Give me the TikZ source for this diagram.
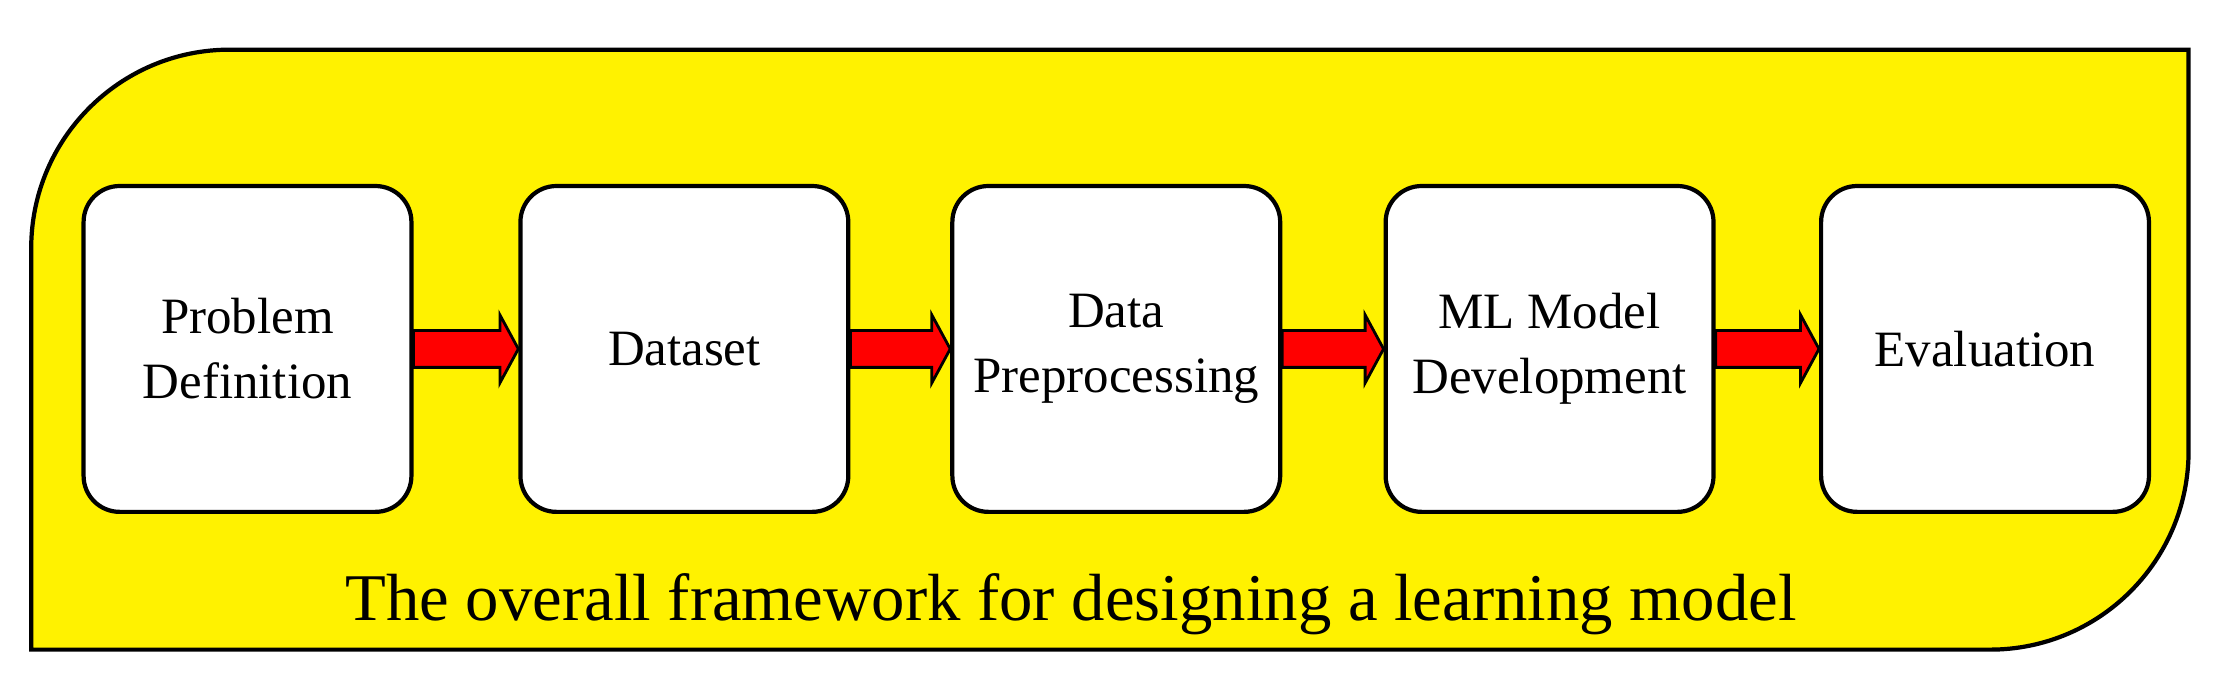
\documentclass[tikz,border=0pt]{standalone}
\usepackage{fontspec}
\setmainfont{Liberation Serif}
\usetikzlibrary{calc}
\begin{document}
\begin{tikzpicture}[x=0.014184cm,y=-0.014184cm,
  box/.style={draw,line width=1.2pt,fill=white,rounded corners=0.36cm,minimum width=3.28cm,minimum height=3.26cm,align=center,font=\fontsize{14.5}{18.5}\selectfont},
  fat/.style={draw,line width=0.8pt,fill=red}]
\useasboundingbox (0,0) rectangle (1568,482);
\draw[line width=1.2pt,fill=yellow] (22,458) -- (22,175) arc[start angle=180,end angle=270,radius=140] -- (1543,35) -- (1543,318) arc[start angle=0,end angle=90,radius=140] -- cycle;
\node[box] (b1) at (174.5,246) {Problem\\Definition};
\node[box] (b2) at (482.5,246) {Dataset};
\node[box] (b3) at (787,246) {Data\\Preprocessing};
\node[box] (b4) at (1092.5,246) {ML Model\\Development};
\node[box] (b5) at (1399.5,246) {Evaluation};
\foreach \a/\b in {b1/b2,b2/b3,b3/b4,b4/b5}{
  \draw[fat] ($(\a.east)+(0,-13)$) -- ($(\b.west)+(-13,-13)$) -- ($(\b.west)+(-13,-24)$) -- (\b.west) -- ($(\b.west)+(-13,24)$) -- ($(\b.west)+(-13,13)$) -- ($(\a.east)+(0,13)$) -- cycle;
}
\node[font=\fontsize{19}{22}\selectfont] (cap) at (755,426) {The overall framework for designing a learning model};
\end{tikzpicture}
\end{document}
